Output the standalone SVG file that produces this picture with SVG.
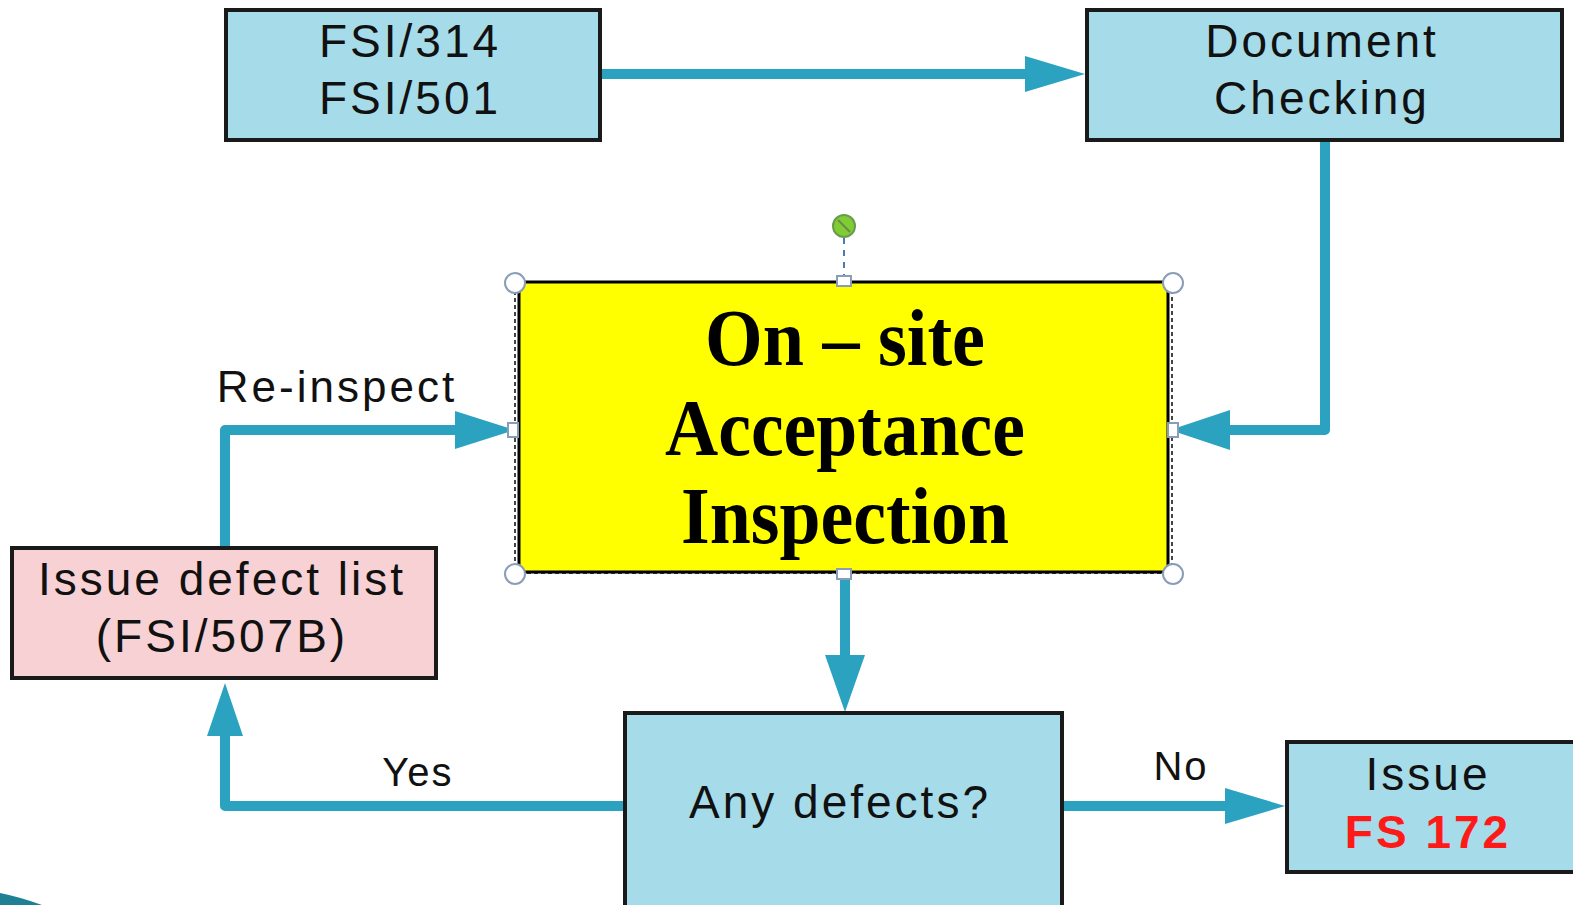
<svg xmlns="http://www.w3.org/2000/svg" width="1573" height="905" viewBox="0 0 1573 905">
<style>
.box{fill:#a6dce9;stroke:#1a1a1a;stroke-width:4}
.t{font-family:"Liberation Sans",Arial,sans-serif;font-size:46px;letter-spacing:3px;fill:#111;text-anchor:middle}
.lbl{font-family:"Liberation Sans",Arial,sans-serif;font-size:40px;letter-spacing:2px;fill:#111;text-anchor:middle}
.big{font-family:"Liberation Serif","Times New Roman",serif;font-size:80px;font-weight:bold;fill:#000;text-anchor:middle}
.ln{fill:none;stroke:#2ba3c0;stroke-width:10;stroke-linejoin:round}
.hd{fill:#2ba3c0}
</style>
<rect width="1573" height="905" fill="#fff"/>
<g id="connectors">
<path class="ln" d="M600 74 H1030"/>
<polygon class="hd" points="1025,56 1085,74 1025,92"/>
<path class="ln" d="M1325 140 V430 H1225"/>
<polygon class="hd" points="1230,410 1170,430 1230,450"/>
<path class="ln" d="M845 575 V660"/>
<polygon class="hd" points="825,655 845,712 865,655"/>
<path class="ln" d="M625 806 H225 V730"/>
<polygon class="hd" points="207,736 225,683 243,736"/>
<path class="ln" d="M225 548 V430 H460"/>
<polygon class="hd" points="455,411 515,430 455,449"/>
<path class="ln" d="M1062 806 H1230"/>
<polygon class="hd" points="1225,788 1285,806 1225,824"/>
<text class="lbl" x="337" y="402" style="font-size:44px;letter-spacing:3px">Re-inspect</text>
<text class="lbl" x="418" y="786">Yes</text>
<text class="lbl" x="1181" y="780">No</text>
</g>
<g id="n-fsi">
<rect class="box" x="226" y="10" width="374" height="130"/>
<text class="t" x="410" y="57">FSI/314</text>
<text class="t" x="410" y="114">FSI/501</text>
</g>
<g id="n-doc">
<rect class="box" x="1087" y="10" width="475" height="130"/>
<text class="t" x="1322" y="57">Document</text>
<text class="t" x="1322" y="114">Checking</text>
</g>
<g id="n-onsite">
<rect x="515" y="282" width="657" height="291" fill="none" stroke="#444" stroke-width="2" stroke-dasharray="4 3"/>
<rect x="519" y="282" width="649" height="290" fill="#ffff00" stroke="#000" stroke-width="3"/>
<text class="big" x="845" y="365" textLength="280" lengthAdjust="spacingAndGlyphs">On – site</text>
<text class="big" x="845" y="455" textLength="360" lengthAdjust="spacingAndGlyphs">Acceptance</text>
<text class="big" x="845" y="543" textLength="328" lengthAdjust="spacingAndGlyphs">Inspection</text>
<line x1="844" y1="238" x2="844" y2="278" stroke="#4a7ab0" stroke-width="2" stroke-dasharray="6 6"/>
<circle cx="844" cy="226" r="11" fill="#7fcc33" stroke="#6a9a50" stroke-width="2"/>
<line x1="838" y1="220" x2="850" y2="232" stroke="#6a8a50" stroke-width="2"/>
<g fill="#fff" stroke="#8a9db8" stroke-width="2">
<circle cx="515" cy="283" r="10"/><circle cx="1173" cy="283" r="10"/>
<circle cx="515" cy="574" r="10"/><circle cx="1173" cy="574" r="10"/>
<rect x="837" y="276" width="14" height="10"/><rect x="837" y="569" width="14" height="10"/>
<rect x="508" y="423" width="10" height="14"/><rect x="1168" y="423" width="10" height="14"/>
</g>
</g>
<g id="n-defect">
<rect x="12" y="548" width="424" height="130" fill="#f7d1d4" stroke="#1a1a1a" stroke-width="4"/>
<text class="t" x="222" y="595">Issue defect list</text>
<text class="t" x="222" y="652">(FSI/507B)</text>
</g>
<g id="n-any">
<rect class="box" x="625" y="713" width="437" height="200"/>
<text class="t" x="840" y="818">Any defects?</text>
</g>
<g id="n-fs172">
<rect class="box" x="1287" y="742" width="290" height="130"/>
<text class="t" x="1428" y="790">Issue</text>
<text class="t" x="1428" y="848" style="fill:#ff1a1a;font-weight:bold">FS 172</text>
</g>
<path d="M0 893 Q20 897 42 905 H0 Z" fill="#1f7f95"/>
</svg>
